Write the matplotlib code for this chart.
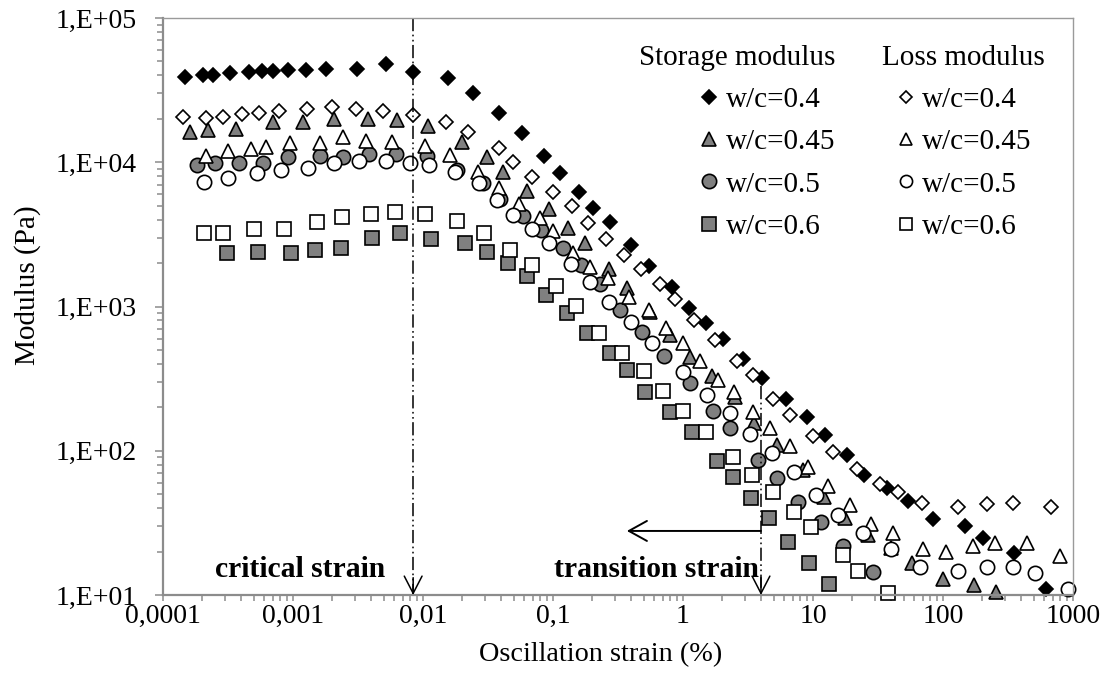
import math
import matplotlib
matplotlib.use('Agg')
import matplotlib.pyplot as plt
from matplotlib.ticker import FuncFormatter, LogLocator

# Oscillation strain (%) and modulus (Pa)
s04_x = [0.000148, 0.000203, 0.000242, 0.000328, 0.000459, 0.000577, 0.000702, 0.000915, 0.00126, 0.00179,
         0.00311, 0.00519, 0.00838, 0.0156, 0.0242, 0.0384, 0.0577, 0.0853, 0.113, 0.158, 0.203, 0.274, 0.398,
         0.548, 0.823, 1.11, 1.5, 2.03, 2.89, 4.05, 6.2, 8.99, 12.4, 18.3, 24.7, 37.1, 53.8, 83.8, 148, 203, 351, 620]
s04_y = [39000, 40300, 40300, 41600, 42200, 42900, 42900, 43600, 43600, 44300, 44300, 48000, 42200, 38400, 30200,
         21900, 15900, 11000, 8420, 6220, 4820, 3850, 2670, 1910, 1370, 976, 769, 595, 433, 319, 228, 171, 129,
         93.4, 67.9, 55.2, 44.8, 33.6, 30.1, 24.8, 19.6, 11.0]
l04_x = [0.000143, 0.000214, 0.000289, 0.000405, 0.000548, 0.00078, 0.00128, 0.002, 0.00305, 0.00492, 0.00839,
         0.015, 0.0222, 0.0384, 0.0492, 0.0689, 0.1, 0.14, 0.186, 0.256, 0.352, 0.475, 0.665, 0.868, 1.22, 1.76,
         2.6, 3.45, 4.92, 6.65, 10, 14.3, 21.8, 32.8, 45.0, 68.9, 130, 218, 345, 677]
l04_y = [20600, 20300, 20600, 21600, 21900, 22700, 23400, 24200, 23400, 22700, 21300, 19000, 16200, 12600, 10000,
         7900, 6220, 4970, 3790, 2940, 2280, 1820, 1430, 1130, 806, 586, 419, 335, 228, 177, 127, 98.0, 74.7,
         58.8, 51.8, 43.4, 40.7, 42.7, 43.4, 40.7]
s045_x = [0.000161, 0.000222, 0.000364, 0.000703, 0.00119, 0.00207, 0.00377, 0.00631, 0.0109, 0.02, 0.0311,
          0.0412, 0.0631, 0.0931, 0.13, 0.176, 0.27, 0.371, 0.557, 0.794, 1.13, 1.67, 2.51, 3.52, 5.28, 8.39,
          12.2, 17.6, 26.5, 39.8, 57.7, 100, 173, 256]
s045_y = [16200, 16700, 17000, 19000, 19000, 19900, 19900, 19600, 17800, 13800, 10900, 8560, 6320, 4740, 3500,
          2760, 1820, 1340, 916, 635, 447, 330, 236, 156, 110, 73.4, 47.8, 34.2, 26.0, 21.2, 16.7, 12.9, 11.7, 10.5]
l045_x = [0.000214, 0.000316, 0.000475, 0.00062, 0.000948, 0.00161, 0.00242, 0.00364, 0.00577, 0.0104, 0.0161,
          0.0265, 0.0384, 0.0548, 0.0794, 0.1, 0.143, 0.193, 0.265, 0.384, 0.548, 0.74, 1.0, 1.35, 1.86, 2.47,
          3.45, 4.67, 6.65, 9.17, 13.0, 19.3, 27.9, 41.2, 70.3, 105, 170, 251, 443, 794]
l045_y = [11000, 12000, 12400, 12800, 13600, 13600, 15000, 14000, 13800, 13000, 11200, 8560, 6630, 5140, 4110,
          3340, 2350, 1880, 1580, 1160, 946, 710, 558, 419, 309, 255, 186, 144, 108, 77.2, 57.0, 42.0, 31.1,
          26.9, 20.8, 19.9, 21.9, 22.9, 22.9, 18.6]
s05_x = [0.000183, 0.000251, 0.000384, 0.000588, 0.000917, 0.00161, 0.00242, 0.00384, 0.0062, 0.0107, 0.0183,
         0.0289, 0.0391, 0.0588, 0.0809, 0.119, 0.164, 0.23, 0.328, 0.484, 0.714, 1.13, 1.7, 2.3, 3.77, 5.28,
         7.68, 11.5, 17.0, 28.9]
s05_y = [9570, 9880, 9880, 9880, 10900, 11000, 10900, 11400, 11400, 11000, 8840, 7180, 5560, 4240, 3390, 2540,
         1940, 1430, 946, 666, 454, 295, 189, 144, 86.0, 64.7, 44.1, 32.1, 21.9, 14.4]
l05_x = [0.000207, 0.000316, 0.000528, 0.000809, 0.0013, 0.00207, 0.00322, 0.00519, 0.00794, 0.0111, 0.0176,
         0.027, 0.0371, 0.0492, 0.0689, 0.0931, 0.138, 0.193, 0.27, 0.398, 0.577, 1.0, 1.53, 2.3, 3.28, 4.84,
         7.14, 10.5, 15.6, 24.2, 39.8, 66.5, 130, 218, 345, 510, 917]
l05_y = [7300, 7780, 8420, 8840, 9120, 9880, 10200, 10200, 9880, 9570, 8560, 7180, 5470, 4310, 3450, 2760, 1970,
         1480, 1070, 781, 558, 352, 244, 183, 131, 96.5, 71.2, 49.3, 35.9, 26.9, 20.8, 15.6, 14.7, 15.6, 15.6,
         14.2, 11.0]
s06_x = [0.000311, 0.000538, 0.000965, 0.00148, 0.00234, 0.00405, 0.00665, 0.0115, 0.021, 0.0311, 0.0451, 0.0631,
         0.0883, 0.128, 0.183, 0.274, 0.371, 0.51, 0.794, 1.17, 1.83, 2.42, 3.33, 4.59, 6.42, 9.32, 13.3]
s06_y = [2350, 2390, 2350, 2460, 2540, 2980, 3230, 2940, 2760, 2390, 2000, 1630, 1200, 901, 655, 476, 363, 255,
         186, 135, 84.9, 65.8, 47, 34.2, 23.3, 16.7, 11.9]
l06_x = [0.000207, 0.000289, 0.000501, 0.000853, 0.00153, 0.00238, 0.00398, 0.00609, 0.0104, 0.0183, 0.0295,
         0.0467, 0.0689, 0.105, 0.15, 0.226, 0.339, 0.501, 0.702, 1, 1.5, 2.42, 3.39, 4.92, 7.14, 9.65, 17, 22.2, 37.8]
l06_y = [3230, 3230, 3450, 3450, 3850, 4170, 4380, 4520, 4380, 3910, 3230, 2460, 1940, 1390, 1010, 655, 476, 357,
         260, 189, 135, 90.5, 67.9, 51.8, 37.6, 29.6, 18.9, 14.7, 10.3]

labels = ['w/c=0.4', 'w/c=0.45', 'w/c=0.5', 'w/c=0.6']
critical_strain = 0.0084
transition_strain = 3.98

plt.rcParams['font.family'] = ['Liberation Serif', 'DejaVu Serif']
plt.rcParams['font.size'] = 20
plt.rcParams['lines.scale_dashes'] = False

fig = plt.figure(figsize=(11.07, 6.9), dpi=100)
ax = fig.add_axes([163/1107, 1-595/690, 910/1107, 577/690])

gray = '#808080'
storage = [(s04_x, s04_y, 'D', 'black', 7.2), (s045_x, s045_y, '^', gray, 10),
           (s05_x, s05_y, 'o', gray, 10.3), (s06_x, s06_y, 's', gray, 9.6)]
loss = [(l04_x, l04_y, 'D', 'white', 7.2), (l045_x, l045_y, '^', 'white', 10),
        (l05_x, l05_y, 'o', 'white', 10.3), (l06_x, l06_y, 's', 'white', 9.6)]

h_storage, h_loss = [], []
for (x, y, m, fc, ms), lab in zip(storage, labels):
    h, = ax.plot(x, y, ls='none', marker=m, mfc=fc, mec='black', ms=ms, mew=1.2, clip_on=False, label=lab)
    h_storage.append(h)
for (x, y, m, fc, ms), lab in zip(loss, labels):
    h, = ax.plot(x, y, ls='none', marker=m, mfc=fc, mec='black', ms=ms, mew=1.2, clip_on=False, label=lab)
    h_loss.append(h)

ax.set_xscale('log')
ax.set_yscale('log')
ax.set_xlim(1e-4, 1e3)
ax.set_ylim(1e1, 1e5)

ax.xaxis.set_major_locator(LogLocator(base=10, numticks=20))
ax.xaxis.set_minor_locator(LogLocator(base=10, subs=range(2, 10), numticks=20))
ax.xaxis.set_major_formatter(FuncFormatter(lambda v, p: ('%g' % v).replace('.', ',')))
ax.yaxis.set_major_formatter(FuncFormatter(lambda v, p: '1,E+%02d' % round(math.log10(v))))

for side in ['left', 'bottom']:
    ax.spines[side].set_color('#8c8c8c')
    ax.spines[side].set_linewidth(1.6)
for side in ['top', 'right']:
    ax.spines[side].set_color('#9a9a9a')
    ax.spines[side].set_linewidth(1.0)
ax.tick_params(axis='y', which='major', direction='out', length=5.8, width=1.1, color='#8c8c8c', pad=13)
ax.tick_params(axis='y', which='minor', direction='out', length=4.2, width=1.1, color='#8c8c8c')
ax.tick_params(axis='x', which='both', direction='out', length=4, width=1.1, color='#8c8c8c', pad=2.5)

ax.set_xlabel('Oscillation strain (%)', fontsize=20.3)
ax.set_ylabel('Modulus (Pa)', fontsize=21)
ax.xaxis.label.set_va('center')
ax.yaxis.label.set_va('center')
ax.xaxis.set_label_coords(0.481, -0.104)
ax.yaxis.set_label_coords(-0.149, 0.537)

# critical strain line
dash = (0, (9.5, 2.5, 1.2, 2.5, 1.2, 2.5))
head = '->,head_length=0.62,head_width=0.32'
ax.plot([critical_strain, critical_strain], [1e5, 10], color='black', lw=1.1, linestyle=dash)
ax.annotate('', xy=(critical_strain, 10), xytext=(critical_strain, 10 ** 1.12),
            arrowprops=dict(arrowstyle=head, color='black', lw=1.1, mutation_scale=20, shrinkA=0, shrinkB=0))
# transition strain line
ax.plot([transition_strain, transition_strain], [280, 10], color='black', lw=1.1, linestyle=dash)
ax.annotate('', xy=(transition_strain, 10), xytext=(transition_strain, 10 ** 1.12),
            arrowprops=dict(arrowstyle=head, color='black', lw=1.1, mutation_scale=20, shrinkA=0, shrinkB=0))
ax.annotate('', xy=(0.37, 27.8), xytext=(transition_strain, 27.8),
            arrowprops=dict(arrowstyle='->,head_length=0.65,head_width=0.36', color='black', lw=1.4,
                            mutation_scale=20, shrinkA=0, shrinkB=0))

ax.text(0.00113, 13.3, 'critical strain', ha='center', va='baseline', fontweight='bold', fontsize=21.3)
ax.text(0.62, 13.3, 'transition strain', ha='center', va='baseline', fontweight='bold', fontsize=21.3)

leg_opts = dict(frameon=False, borderpad=0, borderaxespad=0, handlelength=0.8, handletextpad=0.15,
                labelspacing=0.54, title_fontsize=21, fontsize=21)
leg1 = ax.legend(handles=h_storage, title='Storage modulus', loc='upper right',
                 bbox_to_anchor=(0.7385, 0.953), alignment='right', **leg_opts)
ax.add_artist(leg1)
ax.legend(handles=h_loss, title='Loss modulus', loc='upper center',
          bbox_to_anchor=(0.879, 0.953), alignment='center', markerscale=0.85, **leg_opts)

plt.savefig('out.png')
